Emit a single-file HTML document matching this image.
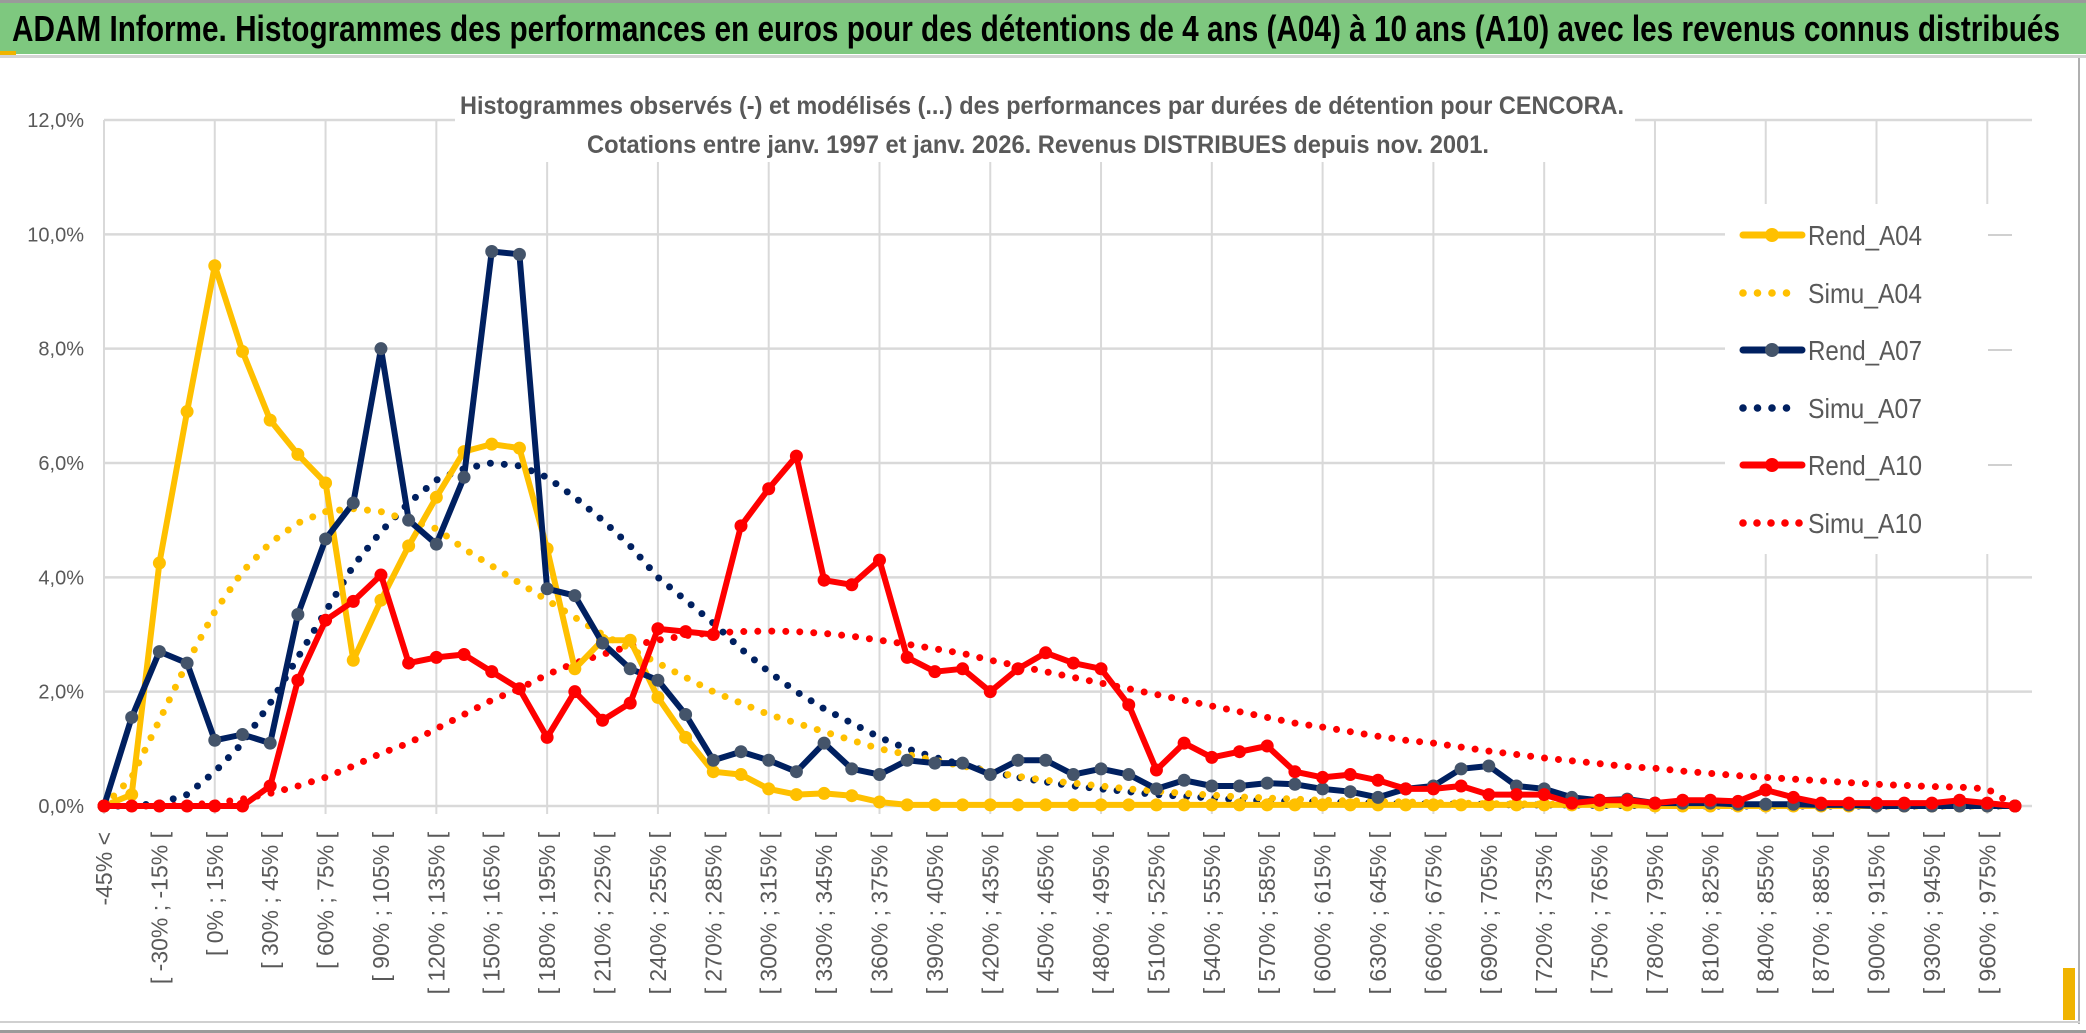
<!DOCTYPE html>
<html><head><meta charset="utf-8"><style>
html,body{margin:0;padding:0;background:#fff;}
svg{display:block;font-family:"Liberation Sans Narrow","Liberation Sans",sans-serif;}
</style></head><body>
<svg id="chart" width="2086" height="1033" viewBox="0 0 2086 1033">
<rect x="0" y="0" width="2086" height="1033" fill="#fff"/>
<rect x="0" y="0" width="2086" height="3" fill="#9a9a9a"/>
<rect x="0" y="3" width="2086" height="51" fill="#7ec87f"/>
<rect x="0" y="51" width="16" height="4" fill="#f0b400"/>
<rect x="0" y="55" width="2086" height="3" fill="#d4d4d4"/>
<text x="12" y="41" font-size="36" font-weight="bold" fill="#000" textLength="2048" lengthAdjust="spacingAndGlyphs">ADAM Informe. Histogrammes des performances en euros pour des détentions de 4 ans (A04) à 10 ans (A10) avec les revenus connus distribués</text>
<g id="grid"></g>
<rect x="455" y="80" width="1180" height="82" fill="#fff"/>
<text x="460" y="114" font-size="25" font-weight="bold" fill="#595959" textLength="1164" lengthAdjust="spacingAndGlyphs">Histogrammes observés (-) et modélisés (...) des performances par durées de détention pour CENCORA.</text>
<text x="587" y="153" font-size="25" font-weight="bold" fill="#595959" textLength="902" lengthAdjust="spacingAndGlyphs">Cotations entre janv. 1997 et janv. 2026. Revenus DISTRIBUES depuis nov. 2001.</text>
<g id="yticks"></g>
<g id="xticks"></g>
<g id="series"></g>
<g id="legend"></g>
<rect x="2078" y="58" width="2" height="966" fill="#b0b0b0"/>
<rect x="0" y="1021" width="2080" height="2" fill="#d0d0d0"/>
<rect x="0" y="1030" width="2086" height="3" fill="#9a9a9a"/>
<rect x="2063" y="968" width="12" height="52" fill="#f0b400"/>
</svg>
<script>
var rendA04 = [0,0.2,4.25,6.9,9.45,7.95,6.75,6.15,5.65,2.55,3.6,4.55,5.4,6.2,6.33,6.26,4.5,2.4,2.9,2.9,1.9,1.2,0.6,0.55,0.3,0.2,0.22,0.18,0.07,0.02,0.02,0.02,0.02,0.02,0.02,0.02,0.02,0.02,0.02,0.02,0.02,0.02,0.02,0.02,0.02,0.02,0.02,0.02,0.02,0.02,0.02,0.02,0.02,0.02,0.02,0.02,0,0,0,0,0,0,0,0,0,0,0,0,0,0];
var simuA04 = [0,0.5,1.5,2.5,3.4,4.1,4.6,4.95,5.15,5.2,5.15,5.0,4.85,4.5,4.2,3.9,3.6,3.3,3.0,2.75,2.5,2.25,2.0,1.8,1.6,1.45,1.3,1.15,1.0,0.9,0.8,0.7,0.6,0.52,0.45,0.4,0.35,0.3,0.26,0.22,0.19,0.16,0.14,0.12,0.1,0.09,0.08,0.07,0.06,0.05,0.04,0.04,0.03,0.03,0.02,0.02,0.02,0.01,0.01,0.01,0.01,0.01,0.01,0.01,0,0,0,0,0,0];
var rendA07 = [0,1.55,2.7,2.5,1.15,1.25,1.1,3.35,4.67,5.3,8.0,5.0,4.58,5.75,9.7,9.65,3.8,3.68,2.85,2.4,2.2,1.6,0.8,0.95,0.8,0.6,1.1,0.65,0.55,0.8,0.75,0.75,0.55,0.8,0.8,0.55,0.65,0.55,0.3,0.45,0.35,0.35,0.4,0.38,0.3,0.25,0.15,0.3,0.35,0.65,0.7,0.35,0.3,0.15,0.1,0.12,0.05,0.05,0.05,0.03,0.03,0.03,0.02,0.02,0,0,0,0,0,0];
var simuA07 = [0,0,0.05,0.2,0.6,1.1,1.8,2.6,3.4,4.2,4.8,5.3,5.7,5.9,6.0,5.95,5.75,5.4,5.0,4.55,4.0,3.6,3.2,2.75,2.35,2.0,1.7,1.45,1.2,1.0,0.85,0.72,0.6,0.5,0.42,0.35,0.3,0.25,0.2,0.17,0.14,0.11,0.09,0.08,0.07,0.06,0.05,0.04,0.04,0.03,0.03,0.02,0.02,0.02,0.01,0.01,0.01,0.01,0,0,0,0,0,0,0,0,0,0,0,0];
var rendA10 = [0,0,0,0,0,0,0.35,2.2,3.25,3.58,4.04,2.5,2.6,2.65,2.35,2.05,1.2,2.0,1.5,1.8,3.1,3.05,3.0,4.9,5.55,6.12,3.95,3.87,4.3,2.6,2.35,2.4,2.0,2.4,2.68,2.5,2.4,1.77,0.63,1.1,0.85,0.95,1.05,0.6,0.5,0.55,0.45,0.3,0.3,0.35,0.2,0.2,0.2,0.05,0.1,0.1,0.05,0.1,0.1,0.08,0.28,0.15,0.05,0.05,0.05,0.05,0.05,0.1,0.05,0];
var simuA10 = [0,0,0,0.02,0.05,0.12,0.22,0.35,0.5,0.7,0.92,1.1,1.35,1.6,1.85,2.05,2.3,2.5,2.65,2.8,2.9,2.98,3.03,3.05,3.06,3.05,3.02,2.97,2.9,2.83,2.75,2.67,2.55,2.45,2.35,2.25,2.15,2.05,1.95,1.85,1.75,1.65,1.55,1.45,1.38,1.3,1.22,1.15,1.1,1.03,0.96,0.9,0.84,0.79,0.74,0.69,0.66,0.61,0.57,0.53,0.5,0.47,0.44,0.41,0.38,0.36,0.34,0.33,0.3,0];
var yTickValues = [0,2,4,6,8,10,12];
var yTickLabels = ["0,0%","2,0%","4,0%","6,0%","8,0%","10,0%","12,0%"];
var seriesNames = ["Rend_A04","Simu_A04","Rend_A07","Simu_A07","Rend_A10","Simu_A10"];
var categories = ["-45% <"];
for (var k = 1; k < 70; k++) { var lo = -45 + 15 * (k - 1); categories.push("[ " + lo + "% ; " + (lo + 15) + "% ["); }

var NS = "http://www.w3.org/2000/svg";
var X0 = 104, X1 = 2015, Y0 = 806, YTOP = 120, YMAX = 12;
function xScale(i) { return X0 + i * (X1 - X0) / (categories.length - 1); }
function yScale(v) { return Y0 - v * (Y0 - YTOP) / YMAX; }
function mk(tag, attrs, parent) { var e = document.createElementNS(NS, tag); for (var a in attrs) e.setAttribute(a, attrs[a]); parent.appendChild(e); return e; }

var grid = document.getElementById('grid');
for (var t = 0; t < yTickValues.length; t++) {
  var gl = mk('line', {x1: X0, x2: 2032, y1: yScale(yTickValues[t]), y2: yScale(yTickValues[t]), stroke: '#d9d9d9', 'stroke-width': 2.5}, grid);
  
  
}
for (var c = 0; c < categories.length; c += 4) {
  var vl = mk('line', {x1: xScale(c), x2: xScale(c), y1: YTOP, y2: Y0 + 8, stroke: '#d9d9d9', 'stroke-width': 2}, grid);
  
  
}
var yt = document.getElementById('yticks');
for (var t = 0; t < yTickValues.length; t++) {
  var tl = mk('text', {x: 84, y: yScale(yTickValues[t]) + 7, 'text-anchor': 'end', 'font-size': 20, fill: '#595959'}, yt);
  tl.textContent = yTickLabels[t];
  
  
}
var xt = document.getElementById('xticks');
for (var c = 0; c < categories.length; c += 2) {
  var xx = xScale(c) + 8;
  var lab = mk('text', {x: xx, y: 832, 'text-anchor': 'end', 'font-size': 23, fill: '#595959', transform: 'rotate(-90 ' + xx + ' 832)'}, xt);
  lab.textContent = categories[c];
  
  
}
var sg = document.getElementById('series');
function pts(arr) { return arr.map(function (v, i) { return xScale(i).toFixed(1) + ',' + yScale(v).toFixed(1); }).join(' '); }
function drawDotted(arr, color, name) {
  var p = mk('polyline', {points: pts(arr), fill: 'none', stroke: color, 'stroke-width': 7, 'stroke-linecap': 'round', 'stroke-dasharray': '0 14'}, sg);
  
  
}
function drawSolid(arr, color, mcolor, name) {
  var p = mk('polyline', {points: pts(arr), fill: 'none', stroke: color, 'stroke-width': 6, 'stroke-linejoin': 'round'}, sg);
  
  
  for (var i = 0; i < arr.length; i++) {
    var m = mk('circle', {cx: xScale(i), cy: yScale(arr[i]), r: 6.5, fill: mcolor}, sg);
    
    
  }
}
drawDotted(simuA10, '#ff0000', 'simu-a10-line');
drawDotted(simuA07, '#002060', 'simu-a07-line');
drawDotted(simuA04, '#ffc000', 'simu-a04-line');
drawSolid(rendA04, '#ffc000', '#ffc000', 'rend-a04-line');
drawSolid(rendA07, '#002060', '#44546a', 'rend-a07-line');
drawSolid(rendA10, '#ff0000', '#ff0000', 'rend-a10-line');

var lg = document.getElementById('legend');
var lbg = mk('rect', {x: 1725, y: 204, width: 320, height: 350, fill: '#fff'}, lg);


var legColors = ['#ffc000', '#ffc000', '#002060', '#002060', '#ff0000', '#ff0000'];
var legMarker = ['#ffc000', null, '#44546a', null, '#ff0000', null];
var legY = [235, 293, 350, 408, 465, 523];
for (var s = 0; s < seriesNames.length; s++) {
  var gy = legY[s];
  if (s % 2 === 0) {
    var ll = mk('line', {x1: 1743, x2: 1802, y1: gy, y2: gy, stroke: legColors[s], 'stroke-width': 7, 'stroke-linecap': 'round'}, lg);
    
    
    var lm = mk('circle', {cx: 1772, cy: gy, r: 7, fill: legMarker[s]}, lg);
    
    
    var gd = mk('line', {x1: 1988, x2: 2012, y1: gy, y2: gy, stroke: '#d0d0d0', 'stroke-width': 2}, lg);
    
    
  } else {
    var n = s === 5 ? 5 : 4;
    for (var d = 0; d < n; d++) {
      var dd = mk('circle', {cx: 1743 + d * (s === 5 ? 14 : 14.5), cy: gy, r: 3.8, fill: legColors[s]}, lg);
      
      
    }
  }
  var lt = mk('text', {x: 1808, y: gy + 10, 'font-size': 28, fill: '#595959', textLength: 114, lengthAdjust: 'spacingAndGlyphs'}, lg);
  lt.textContent = seriesNames[s];
  
  
}
</script>
</body></html>
